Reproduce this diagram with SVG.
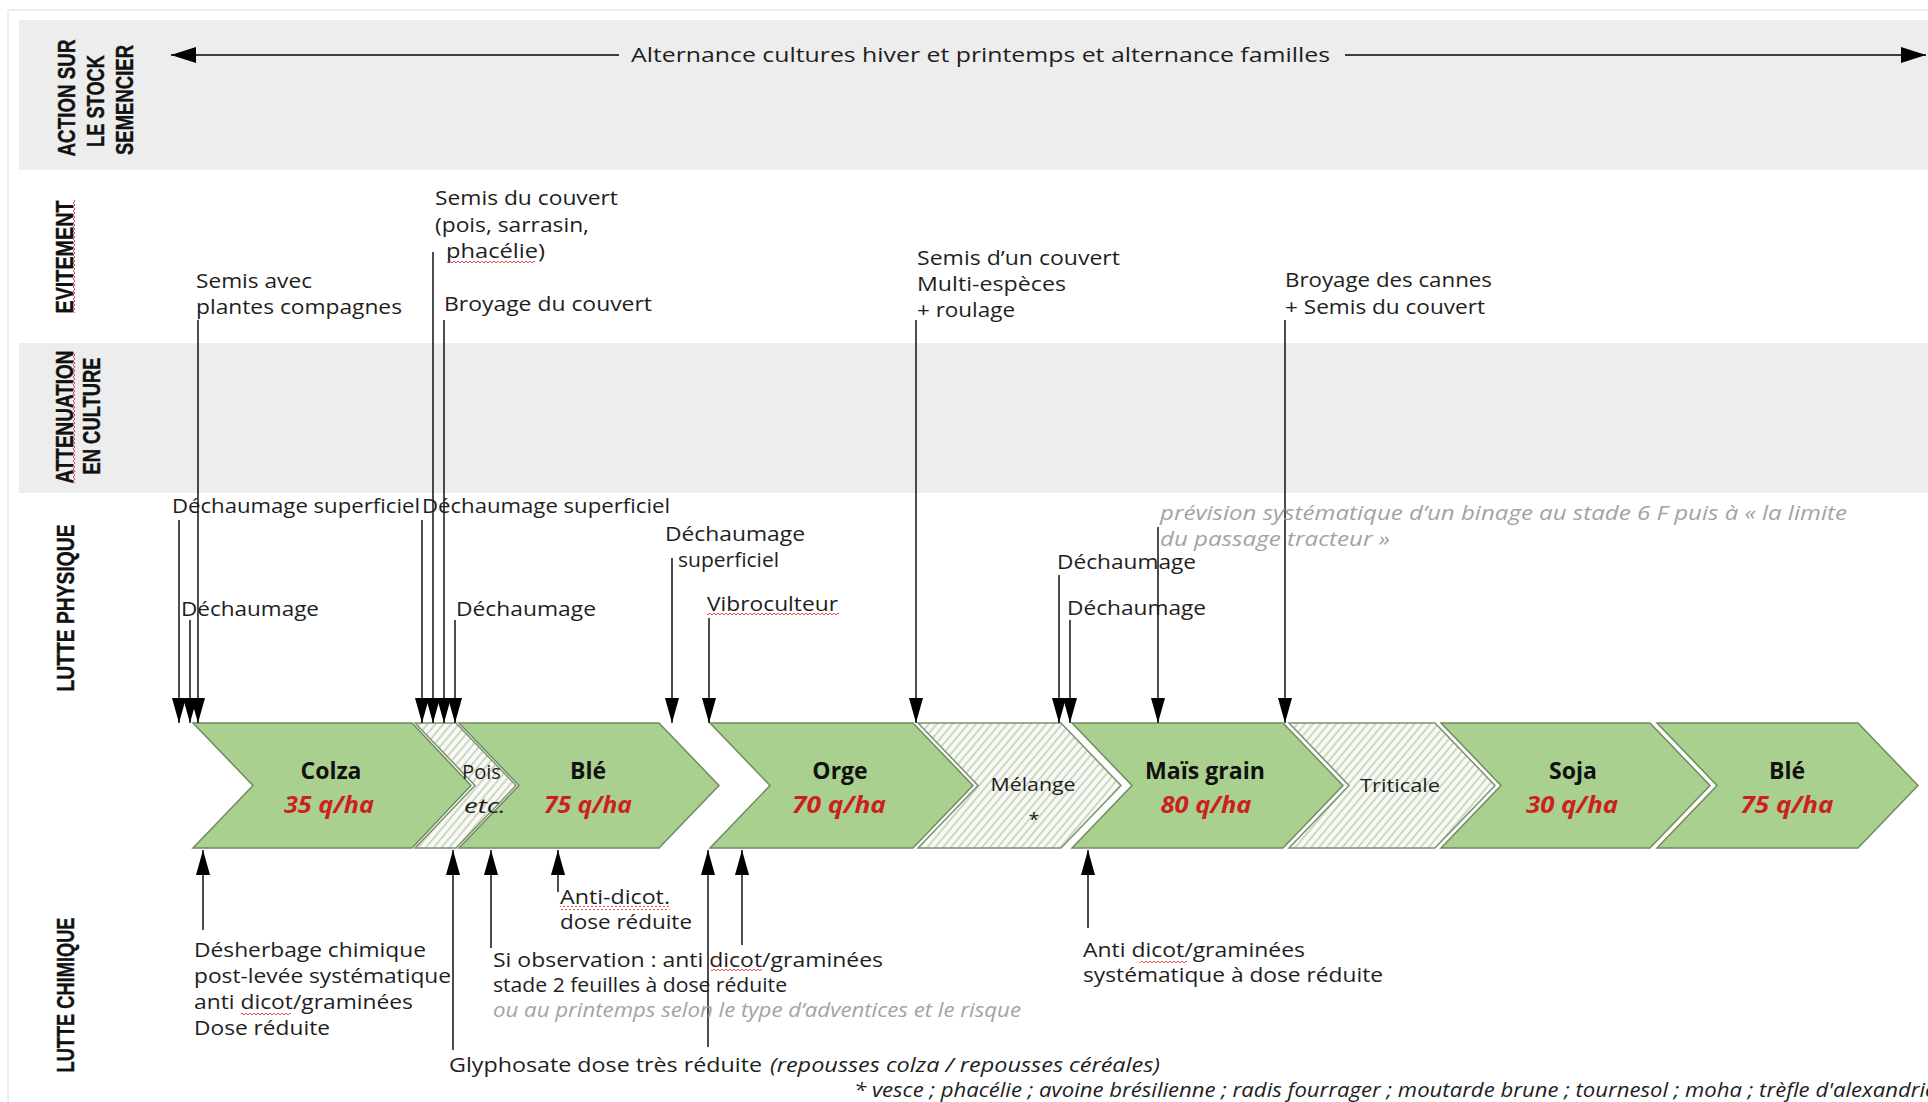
<svg xmlns="http://www.w3.org/2000/svg" width="1928" height="1102" viewBox="0 0 1928 1102">
<style>
.t{font-family:"Open Sans","Liberation Sans",sans-serif;font-size:20px;fill:#1e1e1e}
.gi{font-family:"Open Sans","Liberation Sans",sans-serif;font-size:20px;font-style:italic;fill:#a3a3a3}
.lab{font-family:"Liberation Sans",Arial,sans-serif;font-size:18px;font-weight:bold;fill:#111;text-anchor:middle;stroke:#111;stroke-width:0.3}
.crop{fill:#a9d08e;stroke:#6f8c5e;stroke-width:1.5}
.inter{fill:url(#hatch);stroke:#7d9070;stroke-width:1.5}
.name{font-family:"Open Sans","Liberation Sans",sans-serif;font-size:23px;font-weight:bold;fill:#111;text-anchor:middle}
.yield{font-family:"Open Sans","Liberation Sans",sans-serif;font-size:23px;font-weight:bold;font-style:italic;fill:#cc1f1f;text-anchor:middle}
.small{font-family:"Open Sans","Liberation Sans",sans-serif;font-size:19px;fill:#1e1e1e;text-anchor:middle}
.conn{stroke:#000;stroke-width:1.4;fill:none}
.wavy{fill:url(#wavy)}
</style>
<defs>
<pattern id="hatch" width="6" height="6" patternUnits="userSpaceOnUse" patternTransform="rotate(40)">
<rect width="6" height="6" fill="#f8faf5"/>
<line x1="1" y1="0" x2="1" y2="6" stroke="#b8c5ab" stroke-width="1.3"/>
</pattern>
<pattern id="wavy" width="4" height="4" patternUnits="userSpaceOnUse">
<path d="M0,3 L2,1 L4,3" fill="none" stroke="#e03a3a" stroke-width="0.9"/>
</pattern>
<marker id="ah" markerUnits="userSpaceOnUse" markerWidth="26" markerHeight="14" refX="25" refY="7" orient="auto">
<path d="M0,0 L25,7 L0,14 z" fill="#000"/>
</marker>
<marker id="ah2" markerUnits="userSpaceOnUse" markerWidth="26" markerHeight="16" refX="25" refY="8" orient="auto-start-reverse">
<path d="M0,0 L25,8 L0,16 z" fill="#000"/>
</marker>
</defs>

<rect width="1928" height="1102" fill="#fff"/>
<path d="M8,1102 V10 H1928" fill="none" stroke="#dcdcdc" stroke-width="1"/>

<g id="lanes">
<rect x="19" y="20" width="1909" height="150" fill="#ededed"/>
<rect x="19" y="343" width="1909" height="150" fill="#ededed"/>
</g>

<g id="lane-labels">
<text class="lab" transform="translate(75,98) scale(1.35,1) rotate(-90)" textLength="117" lengthAdjust="spacingAndGlyphs">ACTION SUR</text>
<text class="lab" transform="translate(104,101) scale(1.35,1) rotate(-90)" textLength="92" lengthAdjust="spacingAndGlyphs">LE STOCK</text>
<text class="lab" transform="translate(133,100) scale(1.35,1) rotate(-90)" textLength="110" lengthAdjust="spacingAndGlyphs">SEMENCIER</text>
<text class="lab" transform="translate(73,257) scale(1.35,1) rotate(-90)" textLength="113" lengthAdjust="spacingAndGlyphs">EVITEMENT</text>
<rect class="wavy" transform="translate(72,313) rotate(-90)" width="113" height="4"/>
<text class="lab" transform="translate(73,417) scale(1.35,1) rotate(-90)" textLength="133" lengthAdjust="spacingAndGlyphs">ATTENUATION</text>
<rect class="wavy" transform="translate(72,483) rotate(-90)" width="131" height="4"/>
<text class="lab" transform="translate(100,416) scale(1.35,1) rotate(-90)" textLength="117" lengthAdjust="spacingAndGlyphs">EN CULTURE</text>
<text class="lab" transform="translate(74,608) scale(1.35,1) rotate(-90)" textLength="167" lengthAdjust="spacingAndGlyphs">LUTTE PHYSIQUE</text>
<text class="lab" transform="translate(74,995) scale(1.35,1) rotate(-90)" textLength="155" lengthAdjust="spacingAndGlyphs">LUTTE CHIMIQUE</text>
</g>

<g id="node-alternance">
<text class="t" x="631" y="62" font-size="23" textLength="699" lengthAdjust="spacingAndGlyphs">Alternance cultures hiver et printemps et alternance familles</text>
</g>

<g id="node-colza">
<polygon class="crop" points="193,723 412,723 471,785.5 412,848 193,848 253,785.5"/>
<text class="name" x="331" y="779">Colza</text>
<text class="yield" x="329" y="813" textLength="90" lengthAdjust="spacingAndGlyphs">35 q/ha</text>
</g>
<g id="node-ble1">
<polygon class="crop" points="459,723 659,723 719,785.5 659,848 459,848 519,785.5"/>
<text class="name" x="588" y="779">Blé</text>
<text class="yield" x="588" y="813" textLength="88" lengthAdjust="spacingAndGlyphs">75 q/ha</text>
</g>
<g id="node-pois">
<polygon class="inter" points="415,723 456,723 516,785.5 456,848 415,848 475,785.5"/>
<text class="t" x="462" y="779" textLength="39" lengthAdjust="spacingAndGlyphs">Pois</text>
<text class="t" x="464" y="813" font-style="italic" textLength="42" lengthAdjust="spacingAndGlyphs">etc.</text>
</g>
<g id="node-orge">
<polygon class="crop" points="710,723 913,723 973,785.5 913,848 710,848 770,785.5"/>
<text class="name" x="840" y="779">Orge</text>
<text class="yield" x="839" y="813" textLength="94" lengthAdjust="spacingAndGlyphs">70 q/ha</text>
</g>
<g id="node-melange">
<polygon class="inter" points="918,723 1061,723 1121,785.5 1061,848 918,848 978,785.5"/>
<text class="small" x="1033" y="791" textLength="85" lengthAdjust="spacingAndGlyphs">Mélange</text>
<text class="small" x="1034" y="826">*</text>
</g>
<g id="node-mais">
<polygon class="crop" points="1072,723 1283,723 1343,785.5 1283,848 1072,848 1132,785.5"/>
<text class="name" x="1205" y="779" textLength="120" lengthAdjust="spacingAndGlyphs">Maïs grain</text>
<text class="yield" x="1206" y="813" textLength="91" lengthAdjust="spacingAndGlyphs">80 q/ha</text>
</g>
<g id="node-triticale">
<polygon class="inter" points="1289,723 1435,723 1495,785.5 1435,848 1289,848 1349,785.5"/>
<text class="small" x="1400" y="792" textLength="80" lengthAdjust="spacingAndGlyphs">Triticale</text>
</g>
<g id="node-soja">
<polygon class="crop" points="1441,723 1650,723 1710,785.5 1650,848 1441,848 1501,785.5"/>
<text class="name" x="1573" y="779">Soja</text>
<text class="yield" x="1572" y="813" textLength="92" lengthAdjust="spacingAndGlyphs">30 q/ha</text>
</g>
<g id="node-ble2">
<polygon class="crop" points="1657,723 1858,723 1918,785.5 1858,848 1657,848 1717,785.5"/>
<text class="name" x="1787" y="779">Blé</text>
<text class="yield" x="1787" y="813" textLength="93" lengthAdjust="spacingAndGlyphs">75 q/ha</text>
</g>

<g id="connectors">
<line class="conn" x1="619" y1="55" x2="171" y2="55" stroke="#333" marker-end="url(#ah2)"/>
<line class="conn" x1="1345" y1="55" x2="1926" y2="55" stroke="#333" marker-end="url(#ah2)"/>
<line class="conn" x1="179" y1="520" x2="179" y2="723" marker-end="url(#ah)"/>
<line class="conn" x1="190" y1="620" x2="190" y2="723" marker-end="url(#ah)"/>
<line class="conn" x1="198" y1="320" x2="198" y2="723" marker-end="url(#ah)"/>
<line class="conn" x1="422" y1="520" x2="422" y2="723" marker-end="url(#ah)"/>
<line class="conn" x1="433" y1="252" x2="433" y2="723" marker-end="url(#ah)"/>
<line class="conn" x1="444" y1="320" x2="444" y2="723" marker-end="url(#ah)"/>
<line class="conn" x1="455" y1="620" x2="455" y2="723" marker-end="url(#ah)"/>
<line class="conn" x1="672" y1="558" x2="672" y2="723" marker-end="url(#ah)"/>
<line class="conn" x1="709" y1="618" x2="709" y2="723" marker-end="url(#ah)"/>
<line class="conn" x1="916" y1="320" x2="916" y2="723" marker-end="url(#ah)"/>
<line class="conn" x1="1059" y1="575" x2="1059" y2="723" marker-end="url(#ah)"/>
<line class="conn" x1="1070" y1="620" x2="1070" y2="723" marker-end="url(#ah)"/>
<line class="conn" x1="1158" y1="527" x2="1158" y2="723" marker-end="url(#ah)"/>
<line class="conn" x1="1285" y1="320" x2="1285" y2="723" marker-end="url(#ah)"/>
<line class="conn" x1="203" y1="930" x2="203" y2="850" marker-end="url(#ah)"/>
<line class="conn" x1="453" y1="1050" x2="453" y2="850" marker-end="url(#ah)"/>
<line class="conn" x1="491" y1="948" x2="491" y2="850" marker-end="url(#ah)"/>
<line class="conn" x1="558" y1="892" x2="558" y2="850" marker-end="url(#ah)"/>
<line class="conn" x1="708" y1="1047" x2="708" y2="850" marker-end="url(#ah)"/>
<line class="conn" x1="742" y1="945" x2="742" y2="850" marker-end="url(#ah)"/>
<line class="conn" x1="1088" y1="928" x2="1088" y2="850" marker-end="url(#ah)"/>
</g>

<g id="evitement-texts">
<g id="n-semis-couvert">
<text class="t" x="435" y="205" textLength="183" lengthAdjust="spacingAndGlyphs">Semis du couvert</text>
<text class="t" x="435" y="232" textLength="154" lengthAdjust="spacingAndGlyphs">(pois, sarrasin,</text>
<text class="t" x="446" y="258" textLength="99" lengthAdjust="spacingAndGlyphs">phacélie)</text>
<rect class="wavy" x="447" y="260" width="88" height="4"/>
</g>
<g id="n-semis-avec">
<text class="t" x="196" y="288" textLength="116" lengthAdjust="spacingAndGlyphs">Semis avec</text>
<text class="t" x="196" y="314" textLength="206" lengthAdjust="spacingAndGlyphs">plantes compagnes</text>
</g>
<g id="n-broyage-couvert">
<text class="t" x="444" y="311" textLength="208" lengthAdjust="spacingAndGlyphs">Broyage du couvert</text>
</g>
<g id="n-semis-multi">
<text class="t" x="917" y="265" textLength="203" lengthAdjust="spacingAndGlyphs">Semis d’un couvert</text>
<text class="t" x="917" y="291" textLength="149" lengthAdjust="spacingAndGlyphs">Multi-espèces</text>
<text class="t" x="917" y="317" textLength="98" lengthAdjust="spacingAndGlyphs">+ roulage</text>
</g>
<g id="n-broyage-cannes">
<text class="t" x="1285" y="287" textLength="207" lengthAdjust="spacingAndGlyphs">Broyage des cannes</text>
<text class="t" x="1285" y="314" textLength="200" lengthAdjust="spacingAndGlyphs">+ Semis du couvert</text>
</g>
</g>

<g id="physique-texts">
<text class="t" x="172" y="513" textLength="248" lengthAdjust="spacingAndGlyphs">Déchaumage superficiel</text>
<text class="t" x="422" y="513" textLength="248" lengthAdjust="spacingAndGlyphs">Déchaumage superficiel</text>
<text class="t" x="181" y="616" textLength="138" lengthAdjust="spacingAndGlyphs">Déchaumage</text>
<text class="t" x="456" y="616" textLength="140" lengthAdjust="spacingAndGlyphs">Déchaumage</text>
<text class="t" x="665" y="541" textLength="140" lengthAdjust="spacingAndGlyphs">Déchaumage</text>
<text class="t" x="678" y="567" textLength="101" lengthAdjust="spacingAndGlyphs">superficiel</text>
<text class="t" x="707" y="611" textLength="131" lengthAdjust="spacingAndGlyphs">Vibroculteur</text>
<rect class="wavy" x="707" y="613" width="132" height="4"/>
<text class="t" x="1057" y="569" textLength="139" lengthAdjust="spacingAndGlyphs">Déchaumage</text>
<text class="t" x="1067" y="615" textLength="139" lengthAdjust="spacingAndGlyphs">Déchaumage</text>
<text class="gi" x="1160" y="520" textLength="687" lengthAdjust="spacingAndGlyphs">prévision systématique d’un binage au stade 6 F puis à « la limite</text>
<text class="gi" x="1160" y="546" textLength="230" lengthAdjust="spacingAndGlyphs">du passage tracteur »</text>
</g>

<g id="chimique-texts">
<g id="n-desherbage">
<text class="t" x="194" y="957" textLength="232" lengthAdjust="spacingAndGlyphs">Désherbage chimique</text>
<text class="t" x="194" y="983" textLength="257" lengthAdjust="spacingAndGlyphs">post-levée systématique</text>
<text class="t" x="194" y="1009" textLength="219" lengthAdjust="spacingAndGlyphs">anti dicot/graminées</text>
<rect class="wavy" x="241" y="1011" width="50" height="4"/>
<text class="t" x="194" y="1035" textLength="136" lengthAdjust="spacingAndGlyphs">Dose réduite</text>
</g>
<g id="n-antidicot">
<text class="t" x="560" y="904" textLength="110" lengthAdjust="spacingAndGlyphs">Anti-dicot.</text>
<rect class="wavy" x="560" y="906" width="110" height="4"/>
<text class="t" x="560" y="929" textLength="132" lengthAdjust="spacingAndGlyphs">dose réduite</text>
</g>
<g id="n-si-observation">
<text class="t" x="493" y="967" textLength="390" lengthAdjust="spacingAndGlyphs">Si observation : anti dicot/graminées</text>
<rect class="wavy" x="711" y="969" width="51" height="4"/>
<text class="t" x="493" y="992" textLength="294" lengthAdjust="spacingAndGlyphs">stade 2 feuilles à dose réduite</text>
<text class="gi" x="493" y="1017" textLength="528" lengthAdjust="spacingAndGlyphs">ou au printemps selon le type d’adventices et le risque</text>
</g>
<g id="n-glyphosate">
<text class="t" x="449" y="1072" textLength="313" lengthAdjust="spacingAndGlyphs">Glyphosate dose très réduite</text>
<text class="t" x="770" y="1072" font-style="italic" textLength="390" lengthAdjust="spacingAndGlyphs">(repousses colza / repousses céréales)</text>
</g>
<g id="n-anti-mais">
<text class="t" x="1083" y="957" textLength="222" lengthAdjust="spacingAndGlyphs">Anti dicot/graminées</text>
<rect class="wavy" x="1140" y="959" width="47" height="4"/>
<text class="t" x="1083" y="982" textLength="300" lengthAdjust="spacingAndGlyphs">systématique à dose réduite</text>
</g>
<g id="n-footnote">
<text class="t" x="854" y="1097" font-style="italic" textLength="1082" lengthAdjust="spacingAndGlyphs">* vesce ; phacélie ; avoine brésilienne ; radis fourrager ; moutarde brune ; tournesol ; moha ; trèfle d'alexandrie</text>
</g>
</g>
</svg>
